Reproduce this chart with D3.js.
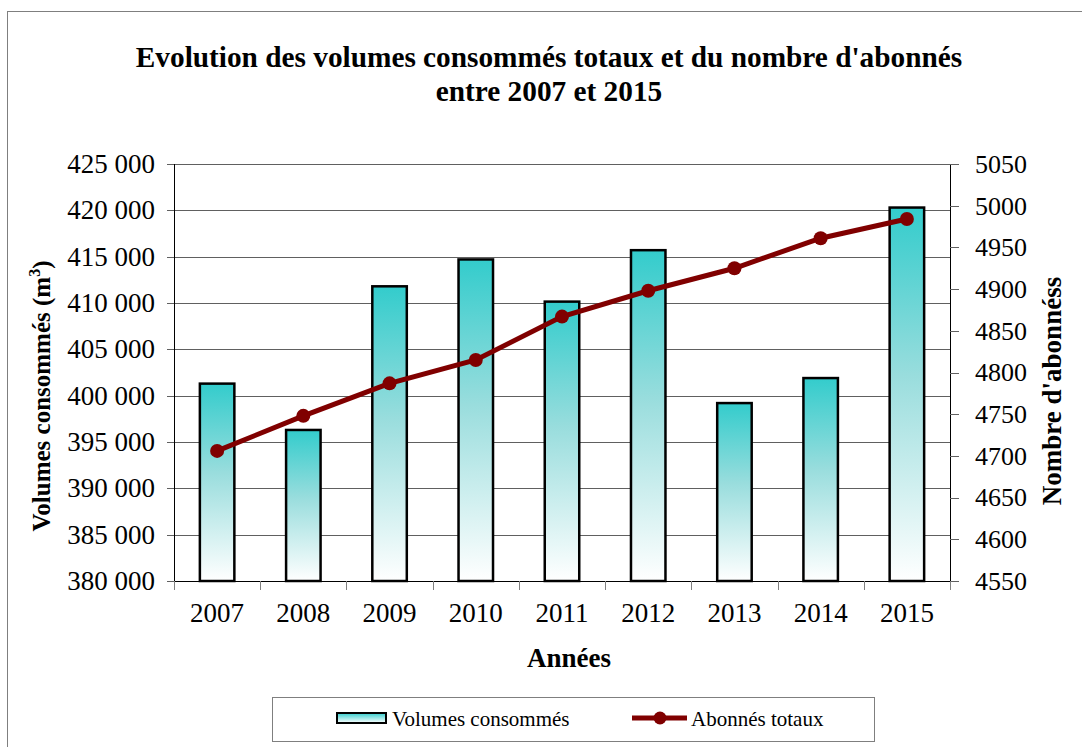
<!DOCTYPE html>
<html>
<head>
<meta charset="utf-8">
<script src="https://cdn.jsdelivr.net/npm/d3@7/dist/d3.min.js"></script>
<style>
	body { margin: 0; background: #fff; }
	svg { display: block; font-family: "Liberation Serif", "Times New Roman", serif; }
	.axis path, .axis line { shape-rendering: crispEdges; }
</style>
</head>
<body>
<script>
var years = ['2007', '2008', '2009', '2010', '2011', '2012', '2013', '2014', '2015'];
var volumes = [401300, 396300, 411800, 414700, 410150, 415700, 399200, 401900, 420300];
var abonnes = [4706, 4748, 4787, 4815, 4867, 4898, 4925, 4961, 4984];

var volumeTicks = [380000, 385000, 390000, 395000, 400000, 405000, 410000, 415000, 420000, 425000];
var abonnesTicks = [4550, 4600, 4650, 4700, 4750, 4800, 4850, 4900, 4950, 5000, 5050];

// SVG + Graph Setup //////////////////////////////////////////////

var margin = {top: 164, right: 132, bottom: 166, left: 174};

var width = 1082 - margin.left - margin.right;
var height = 747 - margin.top - margin.bottom;

var root = d3.select("body")
			.append("svg")
				.attr("width", width + margin.left + margin.right)
				.attr("height", height + margin.top + margin.bottom);

// outer frame (only left + top visible)
root.append("rect")
	.attr("x", 7.5)
	.attr("y", 11.5)
	.attr("width", 1200)
	.attr("height", 900)
	.attr("fill", "none")
	.attr("stroke", "#7f7f7f")
	.attr("stroke-width", 1);

var defs = root.append("defs");
var grad = defs.append("linearGradient")
	.attr("id", "barGrad")
	.attr("x1", 0).attr("y1", 0)
	.attr("x2", 0).attr("y2", 1);
grad.append("stop").attr("offset", "0%").attr("stop-color", "#33cccc");
grad.append("stop").attr("offset", "45%").attr("stop-color", "#99dddd");
grad.append("stop").attr("offset", "100%").attr("stop-color", "#ffffff");

var svg = root.append("g")
			.attr("transform", "translate(" + margin.left + "," + margin.top + ")");

// scales ///////////////////////
var xScale = d3.scaleBand()
		.domain(years)
		.range([0, width])
		.paddingInner(0.6)
		.paddingOuter(0.3);

var xEdges = d3.scaleLinear()
		.domain([0, years.length])
		.range([0, width]);

var yLeft = d3.scaleLinear()
		.domain([380000, 425000])
		.range([height, 0]);

var yRight = d3.scaleLinear()
		.domain([4550, 5050])
		.range([height, 0]);

var fr = d3.formatLocale({decimal: ",", thousands: " ", grouping: [3], currency: ["", ""]});
var fmt = fr.format(",d");

// gridlines
svg.append("g")
	.selectAll("line")
	.data(volumeTicks)
	.enter()
	.append("line")
		.attr("x1", 0)
		.attr("x2", width)
		.attr("y1", function(d){ return Math.round(yLeft(d)) + 0.5; })
		.attr("y2", function(d){ return Math.round(yLeft(d)) + 0.5; })
		.attr("stroke", "#606060")
		.attr("stroke-width", 1);

// bars
svg.append("g")
	.selectAll("rect")
	.data(volumes)
	.enter()
	.append("rect")
		.attr("x", function(d, i){ return xScale(years[i]); })
		.attr("y", function(d){ return yLeft(d); })
		.attr("width", xScale.bandwidth())
		.attr("height", function(d){ return height - yLeft(d); })
		.attr("fill", "url(#barGrad)")
		.attr("stroke", "#000")
		.attr("stroke-width", 2.5);

// axes
var leftAxis = d3.axisLeft(yLeft)
		.tickValues(volumeTicks)
		.tickFormat(fmt)
		.tickSize(7)
		.tickPadding(12);

svg.append("g")
	.attr("class", "y axis")
	.call(leftAxis)
	.call(function(g){
		g.select(".domain").attr("stroke", "#000").attr("stroke-width", 1.5);
		g.selectAll(".tick line").attr("stroke", "#606060");
		g.selectAll("text").attr("font-size", 27).attr("fill", "#000").attr("font-family", "Liberation Serif");
	});

var rightAxis = d3.axisRight(yRight)
		.tickValues(abonnesTicks)
		.tickFormat(d3.format("d"))
		.tickSize(9)
		.tickPadding(16);

svg.append("g")
	.attr("class", "y axis")
	.attr("transform", "translate(" + width + ",0)")
	.call(rightAxis)
	.call(function(g){
		g.select(".domain").attr("stroke", "#000").attr("stroke-width", 1.5);
		g.selectAll(".tick line").attr("stroke", "#606060");
		g.selectAll("text").attr("font-size", 26).attr("fill", "#000").attr("font-family", "Liberation Serif");
	});

var edgeAxis = d3.axisBottom(xEdges)
		.tickValues(d3.range(0, years.length + 1))
		.tickFormat("")
		.tickSize(9)
		.tickSizeOuter(0);

svg.append("g")
	.attr("class", "x axis")
	.attr("transform", "translate(0," + height + ")")
	.call(edgeAxis)
	.call(function(g){
		g.select(".domain").attr("stroke", "#000").attr("stroke-width", 1.5);
		g.selectAll(".tick line").attr("stroke", "#808080");
	});

var labelAxis = d3.axisBottom(xScale)
		.tickSize(0)
		.tickPadding(22);

svg.append("g")
	.attr("transform", "translate(0," + height + ")")
	.call(labelAxis)
	.call(function(g){
		g.select(".domain").remove();
		g.selectAll("text").attr("font-size", 27).attr("fill", "#000").attr("font-family", "Liberation Serif");
	});

// line for subscribers
var line = d3.line()
		.x(function(d, i){ return xScale(years[i]) + xScale.bandwidth() / 2; })
		.y(function(d){ return yRight(d); });

svg.append("path")
	.datum(abonnes)
	.attr("d", line)
	.attr("fill", "none")
	.attr("stroke", "#800000")
	.attr("stroke-width", 5);

svg.append("g")
	.selectAll("circle")
	.data(abonnes)
	.enter()
	.append("circle")
		.attr("cx", function(d, i){ return xScale(years[i]) + xScale.bandwidth() / 2; })
		.attr("cy", function(d){ return yRight(d); })
		.attr("r", 7)
		.attr("fill", "#800000");

// titles ///////////////////////
var title = root.append("text")
	.attr("text-anchor", "middle")
	.attr("font-weight", "bold")
	.attr("font-size", 29.3);
title.append("tspan").attr("x", 549).attr("y", 67).text("Evolution des volumes consommés totaux et du nombre d'abonnés");
title.append("tspan").attr("x", 549).attr("y", 101).text("entre 2007 et 2015");

root.append("text")
	.attr("x", 569)
	.attr("y", 667)
	.attr("text-anchor", "middle")
	.attr("font-weight", "bold")
	.attr("font-size", 27)
	.text("Années");

var yTitle = root.append("text")
	.attr("transform", "translate(50,396) rotate(-90)")
	.attr("text-anchor", "middle")
	.attr("font-weight", "bold")
	.attr("font-size", 25);
yTitle.append("tspan").text("Volumes consommés (m");
yTitle.append("tspan").attr("font-size", 16).attr("dy", -10).text("3");
yTitle.append("tspan").attr("dy", 10).text(")");

root.append("text")
	.attr("transform", "translate(1061,391) rotate(-90)")
	.attr("text-anchor", "middle")
	.attr("font-weight", "bold")
	.attr("font-size", 27)
	.text("Nombre d'abonnéss");

// legend ///////////////////////
var legend = root.append("g");

legend.append("rect")
	.attr("x", 272.5)
	.attr("y", 697.5)
	.attr("width", 602)
	.attr("height", 44)
	.attr("fill", "#fff")
	.attr("stroke", "#7f7f7f");

var lgGrad = defs.append("linearGradient")
	.attr("id", "legGrad")
	.attr("x1", 0).attr("y1", 0)
	.attr("x2", 0).attr("y2", 1);
lgGrad.append("stop").attr("offset", "0%").attr("stop-color", "#33cccc");
lgGrad.append("stop").attr("offset", "100%").attr("stop-color", "#ffffff");

legend.append("rect")
	.attr("x", 337)
	.attr("y", 713)
	.attr("width", 49)
	.attr("height", 10)
	.attr("fill", "url(#legGrad)")
	.attr("stroke", "#000")
	.attr("stroke-width", 2);

legend.append("text")
	.attr("x", 392)
	.attr("y", 726)
	.attr("font-size", 21)
	.text("Volumes consommés");

legend.append("line")
	.attr("x1", 632)
	.attr("x2", 687)
	.attr("y1", 718)
	.attr("y2", 718)
	.attr("stroke", "#800000")
	.attr("stroke-width", 5);

legend.append("circle")
	.attr("cx", 660)
	.attr("cy", 718)
	.attr("r", 6.5)
	.attr("fill", "#800000");

legend.append("text")
	.attr("x", 691)
	.attr("y", 726)
	.attr("font-size", 21)
	.text("Abonnés totaux");
</script>
</body>
</html>
